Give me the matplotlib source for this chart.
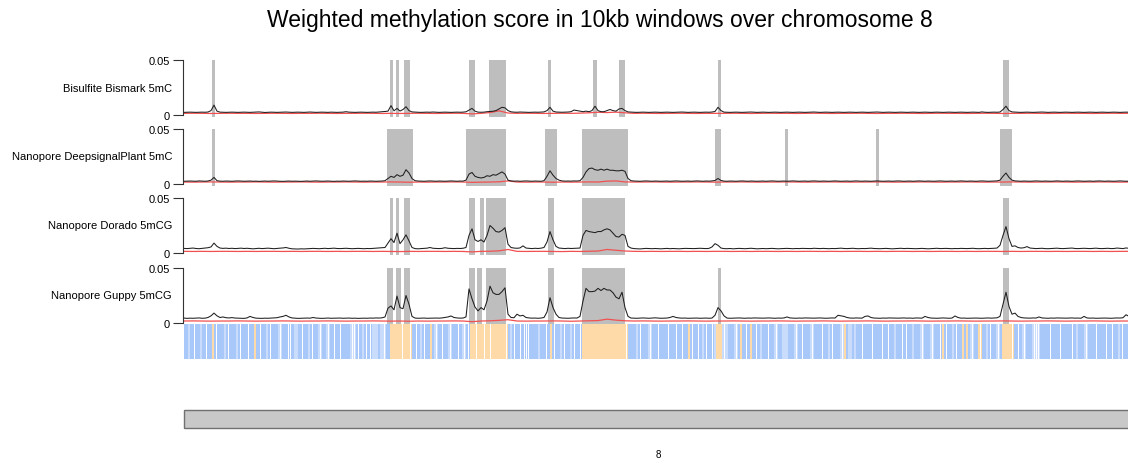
import numpy as np
import matplotlib
matplotlib.use("Agg")
import matplotlib.pyplot as plt
from matplotlib.patches import Rectangle

plt.rcParams["font.family"] = ["Liberation Sans", "DejaVu Sans"]

# ── data ────────────────────────────────────────────────────────────────────
TITLE = "Weighted methylation score in 10kb windows over chromosome 8"
CHROM = "8"
CHROM_LEN = 28.44          # Mb
LINE_STEP = 0.09           # Mb between points of the black lines
RED_STEP = 0.27            # Mb between points of the red lines
TRACK_STEP = 0.06          # Mb per bin of the annotation track

track_names = [
    "Bisulfite Bismark 5mC",
    "Nanopore DeepsignalPlant 5mC",
    "Nanopore Dorado 5mCG",
    "Nanopore Guppy 5mCG",
]

# scores in units of 1e-3
bismark_score = [
    2.4, 2.5, 2.6, 2.5, 2.4, 2.5, 2.6, 2.5, 2.7, 4.0, 9.0, 3.5, 2.6, 2.5, 2.4, 2.5, 2.6, 2.5, 2.4, 2.5,
    2.6, 2.5, 2.4, 2.5, 2.6, 2.8, 2.5, 2.3, 2.5, 2.6, 2.5, 2.4, 2.5, 2.6, 2.7, 2.5, 2.4, 2.5, 2.6, 2.5,
    2.4, 2.5, 2.7, 2.5, 2.4, 2.5, 2.6, 2.5, 2.4, 2.6, 2.5, 2.4, 2.5, 2.6, 3.0, 2.6, 2.5, 2.4, 2.5, 2.6,
    2.5, 2.4, 2.5, 2.6, 2.5, 2.7, 3.0, 3.2, 3.5, 8.5, 3.8, 6.0, 3.6, 5.0, 7.5, 4.0, 2.8, 2.6, 2.5, 2.4,
    2.5, 2.6, 2.5, 2.7, 2.5, 2.4, 2.5, 2.6, 2.5, 2.4, 2.5, 2.6, 2.5, 2.6, 2.9, 4.5, 6.0, 3.5, 2.6, 2.5,
    2.6, 3.0, 3.2, 3.4, 4.0, 5.5, 7.0, 6.5, 4.0, 2.9, 2.6, 2.5, 2.7, 2.6, 2.5, 2.4, 2.5, 2.6, 2.5, 2.6,
    2.8, 4.0, 7.0, 3.5, 2.7, 2.6, 2.5, 2.6, 2.7, 3.0, 4.5, 4.0, 3.5, 3.0, 3.5, 3.0, 4.0, 8.0, 4.0, 3.0,
    3.0, 4.0, 5.0, 4.0, 3.5, 5.5, 6.0, 4.0, 2.8, 2.6, 2.5, 2.4, 2.5, 2.6, 2.5, 2.4, 2.5, 2.6, 2.5, 2.4,
    2.5, 2.6, 2.5, 2.4, 2.5, 2.6, 2.7, 2.5, 2.4, 2.5, 2.6, 2.5, 2.4, 2.5, 2.6, 2.5, 2.7, 3.2, 7.0, 4.0,
    2.6, 2.5, 2.4, 2.5, 2.6, 2.5, 2.4, 2.5, 2.6, 2.7, 2.5, 2.4, 2.5, 2.6, 2.5, 2.4, 2.5, 2.6, 2.5, 2.4,
    2.5, 2.6, 2.5, 2.4, 2.5, 2.6, 2.5, 2.4, 2.5, 2.6, 2.7, 2.5, 2.4, 2.5, 2.6, 2.5, 2.4, 2.5, 2.6, 2.5,
    2.4, 2.5, 2.6, 2.5, 2.4, 2.5, 2.6, 2.5, 2.4, 2.5, 2.6, 2.7, 2.5, 2.4, 2.5, 2.6, 2.5, 2.4, 2.5, 2.6,
    2.5, 2.4, 2.5, 2.6, 2.5, 2.4, 2.5, 2.6, 2.5, 2.4, 2.5, 2.6, 2.5, 2.4, 2.5, 2.6, 2.5, 2.4, 2.5, 2.6,
    2.5, 2.4, 2.5, 2.6, 2.5, 2.4, 2.8, 2.5, 2.4, 2.5, 2.6, 2.5, 2.7, 5.0, 8.0, 4.0, 2.8, 2.6, 2.5, 2.4,
    2.5, 2.6, 2.5, 2.4, 2.5, 2.6, 2.7, 2.5, 2.4, 2.5, 2.6, 2.5, 2.4, 2.5, 2.6, 2.5, 2.4, 2.5, 2.6, 2.5,
    2.4, 2.5, 2.6, 2.5, 2.4, 2.5, 2.6, 2.5, 2.4, 2.5, 2.6, 2.5, 2.4, 2.5, 2.6, 2.5,
]

deepsignal_score = [
    2.5, 2.6, 2.7, 2.6, 2.5, 2.8, 2.6, 2.5, 2.7, 3.5, 6.0, 3.0, 2.6, 2.5, 2.7, 2.6, 2.5, 2.6, 2.8, 2.6,
    2.5, 2.6, 2.7, 2.5, 2.6, 2.4, 2.6, 2.7, 2.5, 2.6, 2.8, 2.6, 2.5, 2.4, 2.6, 2.7, 2.5, 2.6, 2.5, 2.4,
    2.6, 2.7, 2.5, 2.6, 2.8, 2.6, 2.5, 2.6, 2.7, 2.5, 2.4, 2.6, 2.5, 2.7, 2.6, 2.5, 2.6, 2.8, 2.6, 2.5,
    2.6, 2.5, 2.7, 2.6, 2.5, 2.6, 2.7, 3.0, 5.0, 7.0, 6.0, 8.5, 7.0, 8.0, 13.0, 10.0, 5.0, 3.0, 2.7, 2.6,
    2.5, 2.6, 2.8, 2.6, 2.5, 2.7, 2.6, 2.5, 2.6, 2.8, 2.6, 2.5, 2.7, 2.6, 3.5, 9.0, 10.5, 7.0, 6.0, 5.5,
    6.0, 7.5, 7.0, 8.5, 8.0, 9.5, 11.0, 9.0, 3.5, 2.8, 2.6, 2.7, 2.5, 2.6, 2.8, 2.6, 2.5, 2.7, 2.6, 2.5,
    3.0, 7.0, 12.0, 8.0, 5.0, 3.5, 2.8, 2.6, 2.7, 2.6, 2.8, 2.7, 3.0, 6.0, 11.0, 14.0, 14.5, 13.0, 12.5, 13.5,
    12.5, 13.5, 12.5, 12.5, 12.0, 12.0, 12.5, 11.5, 5.0, 3.0, 2.7, 2.6, 2.5, 2.6, 2.8, 2.6, 2.5, 2.7, 2.6, 2.5,
    2.6, 2.7, 2.5, 2.6, 2.8, 2.6, 2.5, 2.6, 2.7, 2.5, 2.6, 2.8, 2.6, 2.5, 2.7, 2.6, 2.8, 3.2, 5.0, 3.2,
    2.6, 2.5, 2.7, 2.6, 2.5, 2.6, 2.8, 2.6, 2.5, 2.7, 2.6, 2.5, 2.6, 2.7, 2.5, 2.6, 2.8, 2.6, 2.5, 2.6,
    2.7, 2.5, 2.6, 2.8, 2.6, 2.5, 2.6, 2.7, 2.5, 2.6, 2.8, 2.6, 2.5, 2.7, 2.6, 2.5, 2.6, 2.8, 2.6, 2.5,
    2.6, 2.7, 2.5, 2.6, 2.8, 2.6, 2.5, 2.7, 2.6, 2.5, 2.6, 2.8, 2.6, 2.5, 2.6, 2.7, 2.5, 2.6, 2.8, 2.6,
    2.5, 2.6, 2.7, 2.5, 2.6, 2.8, 2.6, 2.5, 2.7, 2.6, 2.5, 2.6, 2.8, 2.6, 2.5, 2.6, 2.7, 2.5, 2.6, 2.8,
    2.6, 2.5, 2.7, 2.6, 2.5, 2.6, 2.8, 2.6, 2.5, 2.6, 2.7, 2.8, 3.5, 7.0, 10.0, 6.0, 3.5, 2.8, 2.6, 2.5,
    2.7, 2.6, 2.5, 2.6, 2.8, 2.6, 2.5, 2.7, 2.6, 2.5, 2.6, 2.8, 2.6, 2.5, 2.7, 2.6, 2.5, 2.6, 2.8, 2.6,
    2.5, 2.6, 2.7, 2.5, 2.6, 2.8, 2.6, 2.5, 2.7, 2.6, 2.5, 2.6, 2.8, 2.6, 2.5, 2.6,
]

dorado_score = [
    4.2, 4.0, 4.3, 4.5, 4.1, 3.9, 4.2, 4.4, 4.8, 5.5, 9.0, 6.0, 4.5, 4.2, 4.4, 4.1, 4.3, 4.0, 4.2, 4.4,
    4.1, 4.3, 4.0, 3.8, 4.1, 4.3, 4.0, 4.2, 4.4, 4.1, 3.9, 4.2, 4.4, 4.6, 5.0, 4.3, 3.8, 3.7, 3.6, 3.8,
    3.7, 3.8, 4.0, 4.2, 4.0, 3.9, 4.1, 4.3, 4.0, 4.2, 4.4, 4.1, 4.0, 4.2, 4.3, 4.1, 3.9, 4.0, 4.2, 4.0,
    3.9, 4.1, 4.0, 4.2, 4.3, 4.5, 4.8, 5.0, 9.0, 13.0, 9.5, 18.0, 8.5, 12.0, 16.5, 11.0, 5.0, 4.0, 3.8, 4.0,
    4.2, 4.4, 5.0, 4.3, 4.1, 4.0, 4.2, 4.8, 4.3, 4.1, 4.0, 4.2, 4.1, 4.3, 5.0, 16.0, 22.0, 12.0, 10.5, 12.0,
    10.0, 16.0, 25.0, 22.5, 19.5, 19.0, 20.5, 23.0, 8.0, 5.0, 4.5, 4.3, 4.6, 6.5, 4.5, 4.2, 4.0, 4.3, 4.1, 4.4,
    5.0, 10.0, 19.5, 12.0, 6.0, 4.5, 4.2, 4.0, 4.3, 4.1, 4.2, 4.3, 4.5, 16.0, 20.5, 19.5, 19.0, 18.5, 19.5, 19.5,
    21.0, 22.0, 21.0, 18.0, 15.0, 14.5, 17.0, 16.0, 6.0, 4.5, 4.0, 3.8, 3.7, 4.0, 4.2, 4.0, 3.9, 4.1, 4.0, 3.8,
    4.0, 4.2, 3.9, 4.1, 4.0, 3.8, 4.0, 4.2, 4.1, 3.9, 4.0, 4.2, 4.3, 4.1, 4.0, 4.2, 5.5, 8.5, 7.0, 4.5,
    4.0, 3.9, 4.1, 3.8, 4.0, 4.2, 4.0, 3.9, 4.1, 4.3, 4.0, 3.8, 4.0, 4.1, 3.9, 4.0, 4.2, 4.0, 3.8, 4.0,
    4.1, 4.2, 4.0, 3.9, 4.1, 4.0, 4.2, 4.1, 3.9, 4.0, 4.3, 4.1, 4.0, 4.2, 4.0, 3.9, 4.1, 4.0, 4.2, 4.4,
    4.1, 4.0, 4.2, 4.3, 4.0, 3.9, 4.1, 4.0, 4.2, 4.4, 4.1, 4.0, 3.9, 4.1, 4.2, 4.0, 3.8, 4.0, 4.1, 4.3,
    4.0, 4.2, 4.1, 4.0, 3.9, 4.1, 4.2, 4.0, 3.8, 4.0, 4.1, 4.3, 4.0, 4.1, 4.2, 4.0, 3.9, 4.1, 4.0, 4.2,
    4.1, 4.0, 4.2, 4.3, 4.0, 3.9, 4.1, 4.2, 4.0, 4.1, 4.3, 4.5, 7.0, 16.0, 24.0, 13.0, 6.0, 6.5, 5.0, 4.5,
    4.8, 5.8, 4.5, 4.2, 4.0, 4.1, 4.3, 4.0, 3.9, 4.1, 4.2, 4.4, 4.1, 4.0, 4.2, 4.3, 4.5, 4.1, 4.0, 4.2,
    4.3, 4.1, 4.0, 4.2, 4.4, 4.1, 4.0, 4.2, 4.3, 4.0, 4.1, 4.5, 4.2, 4.0, 4.6, 4.2,
]

guppy_score = [
    4.5, 4.2, 4.4, 4.3, 4.5, 4.6, 4.3, 4.4, 5.0, 6.5, 9.0, 6.5, 5.0, 5.5, 4.8, 4.6, 4.9, 4.5, 4.4, 4.3,
    4.2, 4.6, 6.0, 5.0, 4.4, 4.3, 4.2, 4.4, 4.3, 4.5, 4.6, 4.8, 5.5, 6.0, 7.0, 5.5, 4.6, 4.4, 4.2, 4.3,
    4.3, 4.5, 4.4, 5.0, 4.5, 4.3, 4.2, 4.4, 4.5, 4.3, 4.4, 4.6, 4.5, 4.3, 4.4, 4.5, 4.3, 4.4, 4.2, 4.3,
    4.4, 4.3, 4.5, 4.4, 4.6, 4.5, 4.7, 5.5, 13.5, 15.5, 12.0, 24.5, 14.0, 13.0, 25.0, 17.0, 6.0, 4.5, 4.3, 4.4,
    4.5, 4.3, 4.4, 4.6, 4.5, 4.4, 4.6, 5.0, 5.5, 6.4, 5.0, 4.6, 4.4, 4.5, 5.5, 31.0, 22.0, 14.5, 11.0, 14.0,
    12.0, 20.0, 33.5, 27.5, 26.0, 26.0, 28.5, 32.0, 8.0, 5.0, 4.8, 8.0, 6.4, 7.0, 5.0, 4.6, 4.4, 4.5, 4.3, 4.5,
    5.0, 10.0, 23.0, 14.0, 8.0, 5.0, 4.5, 4.4, 4.3, 4.5, 4.6, 4.5, 6.0, 20.0, 31.5, 28.5, 28.5, 29.0, 31.5, 29.5,
    31.5, 30.0, 30.0, 27.5, 23.5, 22.0, 28.0, 14.0, 6.0, 4.5, 4.4, 4.3, 4.5, 4.6, 4.4, 4.3, 4.5, 4.7, 4.5, 4.3,
    4.4, 4.5, 5.0, 6.0, 5.0, 4.6, 4.4, 4.5, 4.3, 4.4, 4.6, 4.5, 4.3, 4.4, 4.5, 4.3, 4.5, 7.0, 14.0, 11.0,
    6.5, 4.5, 4.3, 4.4, 4.5, 4.6, 4.4, 4.3, 4.5, 4.4, 4.6, 4.5, 4.3, 4.4, 4.5, 4.6, 4.4, 4.3, 4.5, 4.4,
    4.6, 5.5, 4.6, 4.4, 4.3, 4.5, 4.4, 4.6, 4.5, 4.3, 4.4, 4.5, 4.6, 4.4, 4.3, 4.5, 4.6, 4.5, 7.0, 6.5,
    6.0, 5.0, 4.5, 4.4, 4.6, 4.5, 4.4, 6.0, 6.4, 5.0, 4.5, 4.4, 4.3, 4.5, 4.4, 4.6, 4.5, 4.3, 4.4, 4.5,
    4.6, 4.4, 4.5, 4.3, 4.6, 4.5, 4.4, 6.0, 5.0, 4.5, 4.4, 4.3, 4.5, 4.6, 4.4, 4.3, 4.5, 6.4, 5.0, 4.4,
    4.5, 4.3, 4.4, 4.6, 4.5, 4.4, 4.3, 4.5, 4.6, 4.4, 4.5, 4.7, 6.0, 17.0, 28.0, 15.0, 8.0, 9.0, 6.0, 5.0,
    4.6, 4.5, 4.4, 4.6, 4.5, 5.5, 4.6, 4.4, 4.3, 4.5, 4.4, 4.6, 4.5, 4.3, 4.4, 4.5, 4.6, 4.4, 4.5, 4.3,
    6.0, 4.6, 4.4, 4.5, 4.3, 4.4, 4.6, 4.5, 4.4, 4.3, 4.5, 4.6, 4.5, 4.8, 7.5, 6.0,
]

# red (control) lines, units of 1e-3
bismark_ctrl = [
    1.5, 1.6, 1.5, 1.4, 1.5, 1.6, 1.5, 1.5, 1.4, 1.5, 1.6, 1.5, 1.4, 1.5, 1.5, 1.6, 1.5, 1.4, 1.5, 1.5,
    1.6, 1.5, 1.4, 1.5, 1.4, 1.5, 1.6, 1.5, 1.4, 1.5, 1.6, 1.5, 1.0, 1.5, 2.2, 3.8, 1.8, 1.5, 1.6, 1.5,
    1.4, 1.5, 1.6, 1.5, 1.7, 2.0, 2.5, 2.2, 2.6, 2.0, 1.5, 1.6, 1.5, 1.4, 1.5, 1.6, 1.5, 1.4, 1.5, 1.5,
    1.5, 1.6, 1.5, 1.4, 1.5, 1.6, 1.5, 1.5, 1.4, 1.5, 1.6, 1.5, 1.4, 1.5, 1.5, 1.6, 1.5, 1.4, 1.5, 1.5,
    1.6, 1.5, 1.4, 1.5, 1.6, 1.5, 1.5, 1.4, 1.5, 1.6, 1.5, 1.4, 1.5, 1.5, 1.6, 1.5, 1.4, 1.5, 1.6, 1.5,
    1.5, 1.4, 1.5, 1.6, 1.5, 1.5,
]
deepsignal_ctrl = [
    1.8, 1.7, 1.8, 1.9, 1.8, 1.7, 1.8, 1.8, 1.9, 1.8, 1.7, 1.8, 1.8, 1.9, 1.8, 1.7, 1.8, 1.8, 1.9, 1.8,
    1.7, 1.8, 1.8, 1.9, 1.8, 1.6, 1.8, 1.7, 1.8, 1.8, 1.9, 1.8, 1.5, 1.7, 1.8, 2.0, 2.8, 1.8, 1.7, 1.8,
    1.8, 1.6, 1.8, 1.7, 1.8, 1.9, 1.8, 2.6, 2.8, 1.9, 1.8, 1.8, 1.9, 1.8, 1.7, 1.8, 1.8, 1.9, 1.8, 1.7,
    1.8, 1.8, 1.9, 1.8, 1.7, 1.8, 1.8, 1.9, 1.8, 1.7, 1.8, 1.8, 1.9, 1.8, 1.7, 1.8, 1.8, 1.9, 1.8, 1.7,
    1.8, 1.8, 1.9, 1.8, 1.7, 1.8, 1.8, 1.9, 1.8, 1.7, 1.8, 1.8, 1.9, 1.8, 1.7, 1.8, 1.8, 1.9, 1.8, 1.7,
    1.8, 1.8, 1.9, 1.8, 1.7, 1.8,
]
dorado_ctrl = [
    1.5, 1.4, 1.5, 1.4, 1.5, 1.5, 1.4, 1.5, 1.4, 1.5, 1.5, 1.4, 1.5, 1.4, 1.5, 1.5, 1.4, 1.5, 1.4, 1.5,
    1.5, 1.4, 1.5, 1.4, 1.3, 1.5, 1.4, 1.5, 1.5, 1.4, 1.5, 1.4, 1.0, 1.5, 1.6, 2.0, 3.2, 1.5, 1.4, 1.5,
    1.5, 1.4, 1.3, 1.5, 1.4, 1.6, 1.8, 3.2, 2.5, 1.8, 1.5, 1.4, 1.5, 1.4, 1.5, 1.5, 1.4, 1.5, 1.4, 1.5,
    1.5, 1.4, 1.5, 1.4, 1.5, 1.5, 1.4, 1.5, 1.4, 1.5, 1.5, 1.4, 1.5, 1.4, 1.5, 1.5, 1.4, 1.5, 1.4, 1.5,
    1.5, 1.4, 1.5, 1.4, 1.5, 1.5, 1.4, 1.5, 1.4, 1.5, 1.5, 1.4, 1.5, 1.4, 1.5, 1.5, 1.4, 1.5, 1.4, 1.5,
    1.5, 1.4, 1.5, 1.4, 1.5, 1.5,
]
guppy_ctrl = [
    1.8, 1.9, 1.8, 1.7, 1.8, 1.8, 1.9, 1.8, 1.7, 1.8, 1.8, 1.9, 1.8, 1.7, 1.8, 1.8, 1.9, 1.8, 1.7, 1.8,
    1.8, 1.9, 1.8, 1.7, 1.8, 1.6, 1.8, 1.7, 1.8, 1.8, 1.9, 1.8, 1.2, 1.8, 2.0, 2.4, 3.0, 1.8, 1.7, 1.8,
    1.8, 1.9, 1.8, 1.6, 1.8, 2.0, 2.2, 3.5, 2.6, 2.0, 1.8, 1.9, 1.8, 1.7, 1.8, 1.8, 1.9, 1.8, 1.7, 1.8,
    1.8, 1.9, 1.8, 1.7, 1.8, 1.8, 1.9, 1.8, 1.7, 1.8, 1.8, 1.9, 1.8, 1.7, 1.8, 1.8, 1.9, 1.8, 1.7, 1.8,
    1.8, 1.9, 1.8, 1.7, 1.8, 1.8, 1.9, 1.8, 1.7, 1.8, 1.8, 1.9, 1.8, 1.7, 1.8, 1.8, 1.9, 1.8, 1.7, 1.8,
    1.8, 1.9, 1.8, 1.7, 1.8, 1.8,
]

# highlighted regions (Mb start, Mb end)
bismark_regions = [(0.84, 0.93), (6.18, 6.27), (6.36, 6.45), (6.60, 6.78), (8.55, 8.73),
                   (9.15, 9.66), (10.92, 11.01), (12.27, 12.39), (13.05, 13.23),
                   (16.02, 16.11), (24.57, 24.75)]
deepsignal_regions = [(0.84, 0.93), (6.09, 6.87), (8.46, 9.66), (10.83, 11.19),
                      (11.94, 13.32), (15.93, 16.11), (18.03, 18.12), (20.76, 20.85),
                      (24.48, 24.84)]
dorado_regions = [(6.18, 6.27), (6.36, 6.45), (6.60, 6.78), (8.55, 8.73), (8.88, 9.00),
                  (9.06, 9.66), (10.92, 11.10), (11.94, 13.23), (24.57, 24.75)]
guppy_regions = [(6.09, 6.27), (6.36, 6.51), (6.60, 6.78), (8.55, 8.73), (8.79, 8.94),
                 (9.06, 9.66), (10.92, 11.10), (11.94, 13.23), (16.02, 16.11),
                 (24.57, 24.75)]

# annotation track, one char per bin: B blue, L light blue, O orange, . gap
track_bins = """
BBLBB.BBLB B.BBOB.BBB LB.BBBLB.B BB.BBOBB.B BLB.BBBL.B BB..BLLBB. BBLB.BBL.B BL.BB.BB.B
BBBL..B.BL B.B.LLLBLL .BBOOOOOO. OOO.BB.BLB .BBOBL.BB. BBL.BBB.BL .B.OOO.OOO .OO.OOOOOO
O.BLB.BB.B ...BBBBLBB B.BOB.BBLB .BBLB.BB.O OOOOOOOOOO OOOOOOOOOO O.BBBBLB.B BBL.BBB.BB
BB.BBB.BB. BBOB.BB.BL B.BB.LOOOL .LBBBL.BOB B.BOBB.BLB BB.BBL.BBL LLBBBL.BB. BBBL.BBBB.
BBLB.BBBL. OBLLBLBBB. BBBB.BBBB. BB.BBLBBB. B.BBLBBBL. BBBL.BBB.O B.BBLB.BBO BOBL.BBO.B
BLB.BBL.BO OOOO.BB.BL .BBBL...BB BBB.BBBB.B BBBB.BLBBB L.BBBB.BBB B.BB.BBLB. BBL.
"""

track_scores = [bismark_score, deepsignal_score, dorado_score, guppy_score]
track_ctrls = [bismark_ctrl, deepsignal_ctrl, dorado_ctrl, guppy_ctrl]
track_regions = [bismark_regions, deepsignal_regions, dorado_regions, guppy_regions]

# ── layout (pixels of the 1128x464 canvas) ──────────────────────────────────
W, H = 1128, 464
X0, X1 = 184, 1132
PANEL_TOPS = [61, 130, 199, 269]
PANEL_H = 55
BIN_COLORS = {"B": "#a9c8fa", "L": "#c9dcfb", "O": "#fddaa8"}


def box(x0, y_top, x1, y_bot):
    return [x0 / W, 1 - y_bot / H, (x1 - x0) / W, (y_bot - y_top) / H]


fig = plt.figure(figsize=(W / 100, H / 100), dpi=100)

fig.text(600 / W, 1 - 20 / H, TITLE, ha="center", va="center", fontsize=16.5)

ymin = -0.05 * 2 / PANEL_H
for name, score, ctrl, regions, top in zip(track_names, track_scores, track_ctrls,
                                            track_regions, PANEL_TOPS):
    ax = fig.add_axes(box(X0, top, X1, top + PANEL_H + 2))
    ax.patch.set_visible(False)
    ax.set_xlim(0, CHROM_LEN)
    ax.set_ylim(ymin, 0.05)

    for start, end in regions:
        ax.axvspan(start, end, color="#bebebe", lw=0, zorder=1)

    ctrl = np.array(ctrl) / 1000
    score = np.array(score) / 1000
    ax.plot(np.arange(len(ctrl)) * RED_STEP, ctrl, color="#f25050", lw=0.9, zorder=2)
    ax.plot(np.arange(len(score)) * LINE_STEP, score, color="#1e1e1e", lw=0.75, zorder=3)

    for side in ("top", "right", "bottom"):
        ax.spines[side].set_visible(False)
    ax.spines["left"].set_bounds(0, 0.05)
    ax.spines["left"].set_position(("outward", 1))
    ax.spines["left"].set_linewidth(0.8)
    ax.spines["left"].set_color("#333333")
    ax.set_xticks([])
    ax.set_yticks([0, 0.05])
    ax.set_yticklabels(["0", "0.05"])
    ax.tick_params(axis="y", length=7, width=0.8, color="#333333", labelsize=8, pad=2)

    fig.text(172 / W, 1 - (top + PANEL_H / 2) / H, name, ha="right", va="center",
             fontsize=8)

# annotation track: coloured bins, gaps drawn as thin white lines over them
bins = "".join(track_bins.split())
axt = fig.add_axes(box(X0, 325, X1, 360))
axt.set_xlim(0, CHROM_LEN)
axt.set_ylim(0, 1)
fill = []
prev = "B"
for c in bins:
    prev = c if c in BIN_COLORS else prev
    fill.append(BIN_COLORS[prev])
axt.bar(np.arange(len(bins)) * TRACK_STEP, 1, width=TRACK_STEP, align="edge",
        color=fill, lw=0)
gaps = [i * TRACK_STEP for i, c in enumerate(bins) if c == "."]
axt.bar(gaps, 1, width=TRACK_STEP * 0.6, align="edge", color="white", lw=0)
axt.axis("off")

# chromosome ideogram
axi = fig.add_axes(box(X0, 411, X1, 429))
axi.set_xlim(0, CHROM_LEN)
axi.set_ylim(0, 1)
axi.add_patch(Rectangle((0, 0), CHROM_LEN, 1, facecolor="#c8c8c8", edgecolor="#707070",
                        lw=1.0, clip_on=False))
axi.axis("off")
fig.text(658 / W, 1 - 455 / H, CHROM, ha="center", va="center", fontsize=7)

fig.savefig("out.png", dpi=100)
